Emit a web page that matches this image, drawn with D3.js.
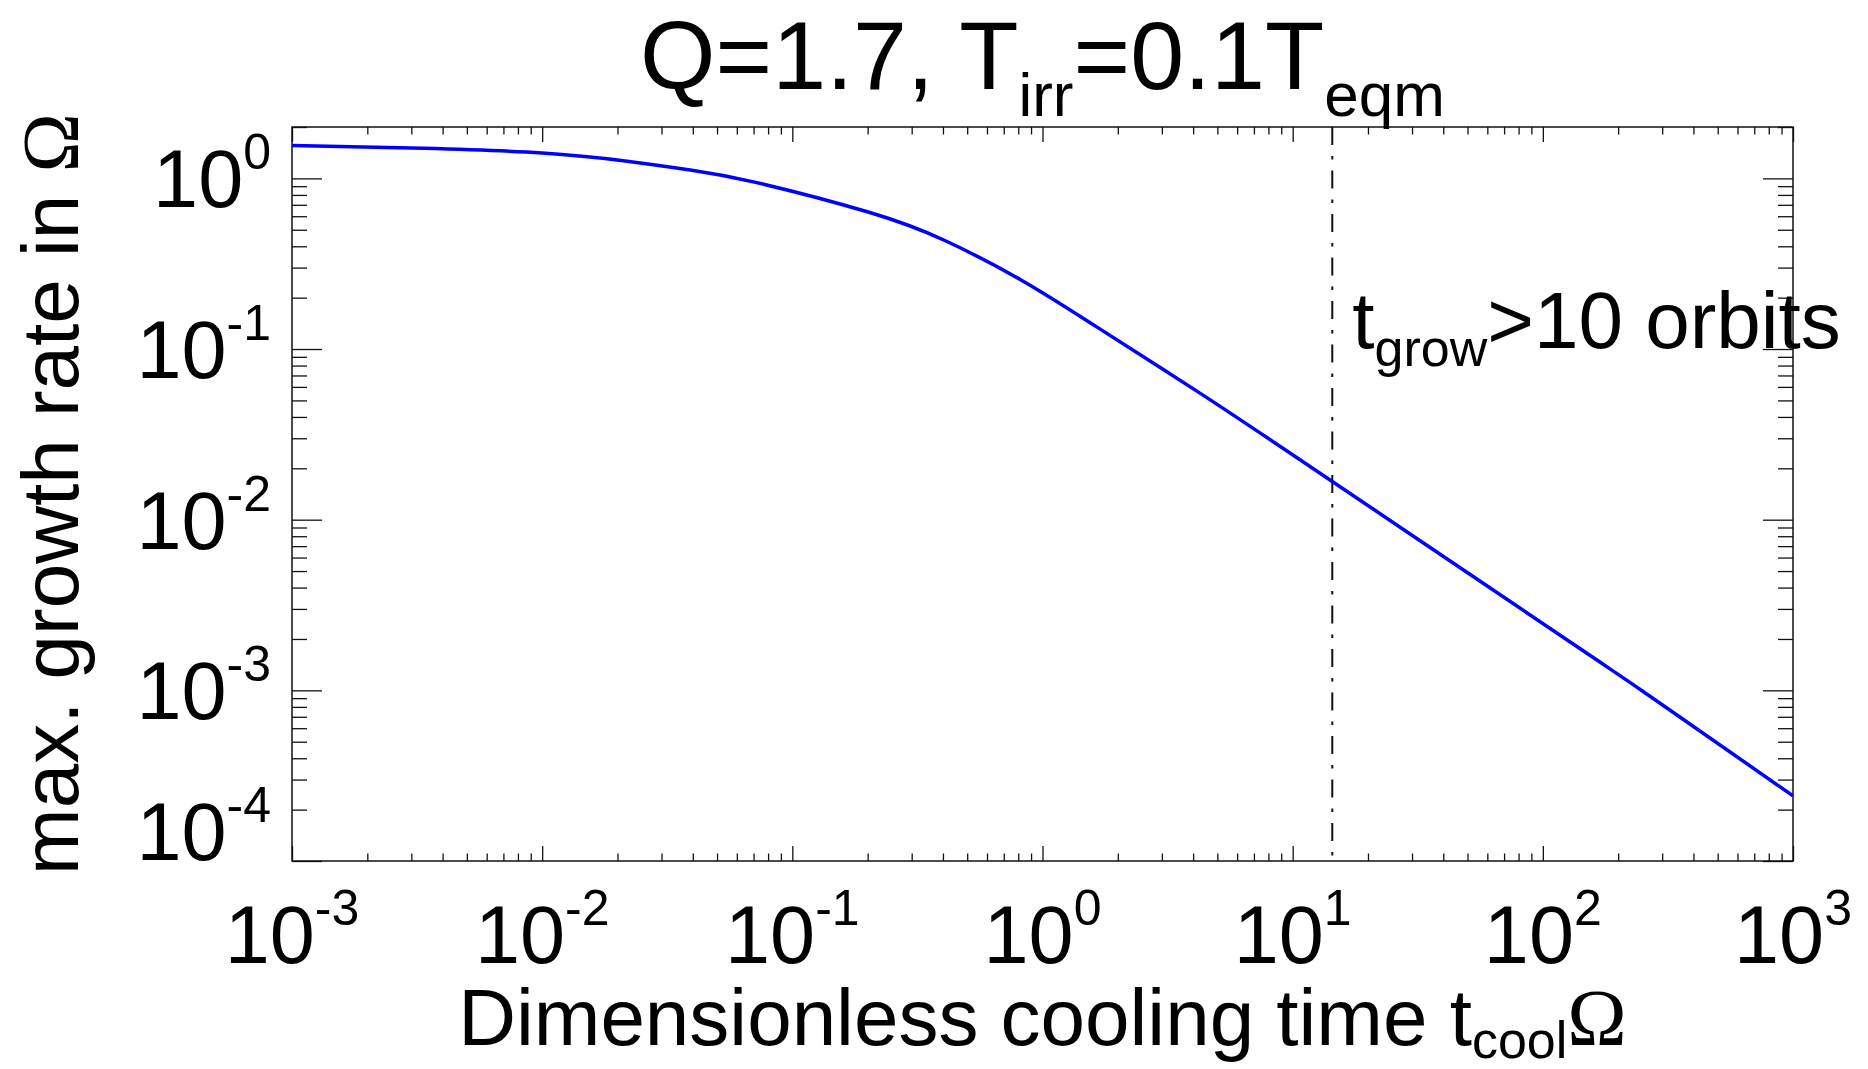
<!DOCTYPE html>
<html>
<head>
<meta charset="utf-8">
<script src="https://cdn.jsdelivr.net/npm/d3@7"></script>
<style>
  body { margin: 0; background: #fff; }
  text { font-family: "Liberation Sans", Helvetica, Arial, sans-serif; fill: #000; }
  .greek { font-family: "Liberation Serif", "DejaVu Serif", serif; }
</style>
</head>
<body>
<svg width="1868" height="1069"></svg>
<script>
// cooling time (t_cool * Omega) and max growth rate
const tCool  = [0.001, 0.00334, 0.01, 0.0211, 0.0391, 0.0722, 0.201, 0.405, 0.824, 1.67, 4.17, 14.4, 142, 262, 1000];
const growth = [1.56, 1.50, 1.41, 1.27, 1.12, 0.944, 0.635, 0.434, 0.253, 0.133, 0.0563, 0.01675, 0.00174, 0.000945, 0.000241];

// t_cool where t_grow = 10 orbits
const tGrowLine = 14.4;

const xDomain = [1e-3, 1e3];
const yDomain = [1e-4, 2];
const xTickExps = [-3, -2, -1, 0, 1, 2, 3];
const yTickExps = [0, -1, -2, -3, -4];

const svg = d3.select("svg"),
    plotLeft = 292, plotRight = 1793, plotTop = 127, plotBottom = 861;

const x = d3.scaleLog().domain(xDomain).range([plotLeft, plotRight]);
const y = d3.scaleLog().domain(yDomain).range([plotBottom, plotTop]);

const xMajor = xTickExps.map(e => Math.pow(10, e));
const yMajor = yTickExps.map(e => Math.pow(10, e));
const isMajor = v => Math.abs(Math.log10(v) - Math.round(Math.log10(v))) < 1e-9;
const xMinor = x.ticks().filter(v => !isMajor(v));
const yMinor = y.ticks().filter(v => !isMajor(v));

svg.append("defs").append("clipPath").attr("id", "plot-clip")
  .append("rect")
    .attr("x", plotLeft).attr("y", plotTop)
    .attr("width", plotRight - plotLeft).attr("height", plotBottom - plotTop);

// axes: ticks point inward on all four sides
function drawAxis(gen, transform) {
  const g = svg.append("g").attr("transform", transform).call(gen);
  g.select(".domain").remove();
  g.selectAll("line").attr("stroke", "#111").attr("stroke-width", 1.3);
  g.selectAll("text").remove();
}

drawAxis(d3.axisBottom(x).tickValues(xMajor).tickSize(-15), `translate(0,${plotBottom})`);
drawAxis(d3.axisBottom(x).tickValues(xMinor).tickSize(-7.5), `translate(0,${plotBottom})`);
drawAxis(d3.axisTop(x).tickValues(xMajor).tickSize(-15), `translate(0,${plotTop})`);
drawAxis(d3.axisTop(x).tickValues(xMinor).tickSize(-7.5), `translate(0,${plotTop})`);
drawAxis(d3.axisLeft(y).tickValues(yMajor).tickSize(-30), `translate(${plotLeft},0)`);
drawAxis(d3.axisLeft(y).tickValues(yMinor).tickSize(-15), `translate(${plotLeft},0)`);
drawAxis(d3.axisRight(y).tickValues(yMajor).tickSize(-30), `translate(${plotRight},0)`);
drawAxis(d3.axisRight(y).tickValues(yMinor).tickSize(-15), `translate(${plotRight},0)`);

svg.append("rect")
    .attr("x", plotLeft).attr("y", plotTop)
    .attr("width", plotRight - plotLeft).attr("height", plotBottom - plotTop)
    .attr("fill", "none")
    .attr("stroke", "#111")
    .attr("stroke-width", 1.5);

// tick labels 10^n
const xLabels = svg.append("g").selectAll("text")
    .data(xTickExps)
    .enter().append("text")
    .attr("x", d => x(Math.pow(10, d)))
    .attr("y", 963)
    .attr("text-anchor", "middle")
    .style("font-size", "81px")
    .text("10");
xLabels.append("tspan")
    .attr("dy", -38)
    .style("font-size", "50px")
    .text(d => d < 0 ? "-" + (-d) : d);

const yLabels = svg.append("g").selectAll("text")
    .data(yTickExps)
    .enter().append("text")
    .attr("x", 271)
    .attr("y", d => {
      const v = Math.pow(10, d);
      // the bottom label sits above the x axis line
      return v === yDomain[0] ? y(v) - 1 : y(v) + 29;
    })
    .attr("text-anchor", "end")
    .style("font-size", "81px")
    .text("10");
yLabels.append("tspan")
    .attr("dy", -38)
    .style("font-size", "50px")
    .text(d => d < 0 ? "-" + (-d) : d);

// title
const title = svg.append("text")
    .attr("x", (plotLeft + plotRight) / 2)
    .attr("y", 89)
    .attr("text-anchor", "middle")
    .style("font-size", "97px");
title.append("tspan").text("Q=1.7, T");
title.append("tspan").attr("dy", 27).style("font-size", "62px").text("irr");
title.append("tspan").attr("dy", -27).text("=0.1T");
title.append("tspan").attr("dy", 27).style("font-size", "62px").text("eqm");

// x axis title
const xTitle = svg.append("text")
    .attr("x", (plotLeft + plotRight) / 2)
    .attr("y", 1045)
    .attr("text-anchor", "middle")
    .style("font-size", "80px");
xTitle.append("tspan").text("Dimensionless cooling time t");
xTitle.append("tspan").attr("dy", 13).style("font-size", "52px").text("cool");
xTitle.append("tspan").attr("dy", -13).attr("class", "greek").text("\u03A9");

// y axis title
const yTitle = svg.append("text")
    .attr("transform", `translate(78,${(plotTop + plotBottom) / 2}) rotate(-90)`)
    .attr("text-anchor", "middle")
    .style("font-size", "80px");
yTitle.append("tspan").text("max. growth rate in ");
yTitle.append("tspan").attr("class", "greek").text("\u03A9");

// t_grow = 10 orbits marker
svg.append("line")
    .attr("x1", x(tGrowLine)).attr("x2", x(tGrowLine))
    .attr("y1", plotTop).attr("y2", plotBottom)
    .attr("stroke", "#111")
    .attr("stroke-width", 2)
    .attr("stroke-dasharray", "18 11 3.5 11");

const note = svg.append("text")
    .attr("x", x(tGrowLine) + 20)
    .attr("y", 348)
    .style("font-size", "80px");
note.append("tspan").text("t");
note.append("tspan").attr("dy", 18).style("font-size", "52px").text("grow");
note.append("tspan").attr("dy", -18).text(">10 orbits");

// growth rate curve
const points = tCool.map((t, i) => [t, growth[i]]);
svg.append("path")
    .datum(points)
    .attr("clip-path", "url(#plot-clip)")
    .attr("fill", "none")
    .attr("stroke", "#0000ff")
    .attr("stroke-width", 3.5)
    .attr("d", d3.line()
        .x(d => x(d[0]))
        .y(d => y(d[1]))
        .curve(d3.curveNatural));
</script>
</body>
</html>
